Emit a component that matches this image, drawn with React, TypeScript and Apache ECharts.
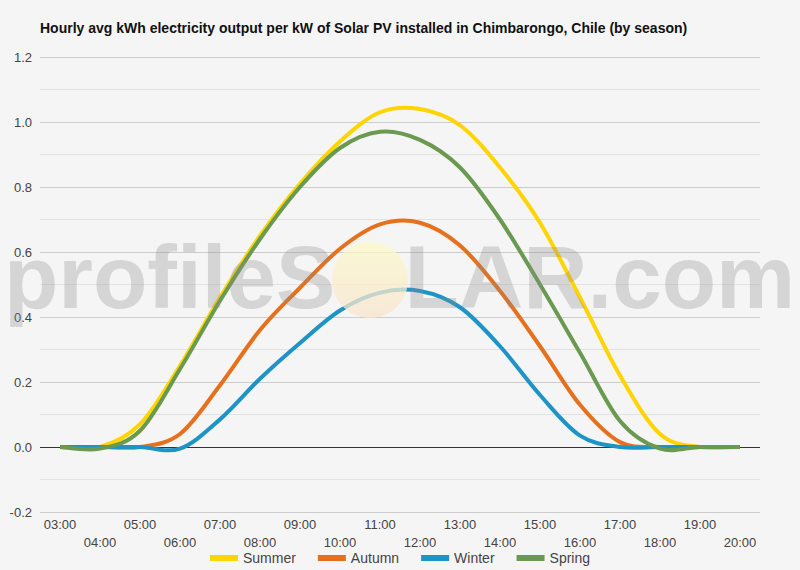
import React, { useEffect, useRef } from "react";
import * as echarts from "echarts";

const hours = [
  "03:00", "04:00", "05:00", "06:00", "07:00", "08:00", "09:00", "10:00", "11:00",
  "12:00", "13:00", "14:00", "15:00", "16:00", "17:00", "18:00", "19:00", "20:00",
];

const summer = [0, 0.0, 0.07, 0.25, 0.46, 0.65, 0.81, 0.94, 1.03, 1.04, 0.99, 0.86, 0.69, 0.46, 0.22, 0.04, 0.0, 0];
const autumn = [0, 0, 0.0, 0.04, 0.19, 0.36, 0.49, 0.61, 0.685, 0.69, 0.62, 0.48, 0.31, 0.13, 0.015, 0.0, 0, 0];
const winter = [0, 0, 0.0, -0.005, 0.085, 0.21, 0.32, 0.42, 0.475, 0.48, 0.43, 0.31, 0.16, 0.035, 0.0, 0.0, 0, 0];
const spring = [0, -0.005, 0.05, 0.24, 0.45, 0.64, 0.8, 0.92, 0.97, 0.945, 0.86, 0.7, 0.5, 0.29, 0.08, -0.005, 0, 0];

const seriesNames = ["Summer", "Autumn", "Winter", "Spring"];
const seriesColors = ["#FFD400", "#E5711E", "#1E93C6", "#6A9A4F"];

const FONT = "'Liberation Sans', Arial, sans-serif";

// Builds a Catmull-Rom spline through the projected points as cubic Béziers.
function splinePath(pts: number[][]): string {
  let d = `M${pts[0][0]},${pts[0][1]}`;
  for (let k = 0; k < pts.length - 1; k++) {
    const p0 = pts[k - 1] || pts[k];
    const p1 = pts[k];
    const p2 = pts[k + 1];
    const p3 = pts[k + 2] || pts[k + 1];
    const c1x = p1[0] + (p2[0] - p0[0]) / 6;
    const c1y = p1[1] + (p2[1] - p0[1]) / 6;
    const c2x = p2[0] - (p3[0] - p1[0]) / 6;
    const c2y = p2[1] - (p3[1] - p1[1]) / 6;
    d += ` C${c1x},${c1y} ${c2x},${c2y} ${p2[0]},${p2[1]}`;
  }
  return d;
}

export default function App() {
  const ref = useRef<HTMLDivElement>(null);

  useEffect(() => {
    if (!ref.current) return;
    const chart = echarts.init(ref.current, undefined, { renderer: "svg" });
    const data = [summer, autumn, winter, spring];

    const gridColors = hours.map(() => "#cccccc");
    gridColors[1] = "#333333"; // the 0.0 line

    chart.setOption({
      animation: false,
      backgroundColor: "#f5f5f5",
      textStyle: { fontFamily: FONT },
      title: {
        text: "Hourly avg kWh electricity output per kW of Solar PV installed in Chimbarongo, Chile (by season)",
        left: 35,
        top: 16,
        textStyle: { fontFamily: FONT, fontSize: 14, fontWeight: "bold", color: "#111" },
      },
      legend: {
        bottom: 0,
        left: "center",
        itemWidth: 28,
        itemHeight: 6,
        itemGap: 22,
        icon: "rect",
        textStyle: { fontFamily: FONT, fontSize: 14, color: "#444" },
        data: seriesNames,
      },
      grid: { left: 40, right: 40, top: 57, bottom: 58, containLabel: false },
      xAxis: {
        type: "category",
        data: hours,
        boundaryGap: true,
        axisLine: { show: false },
        axisTick: { show: false },
        axisLabel: {
          interval: 0,
          margin: 3,
          fontFamily: FONT,
          fontSize: 13,
          color: "#444",
          lineHeight: 18,
          formatter: (v: string, i: number) => (i % 2 === 1 ? "\n" + v : v),
        },
      },
      yAxis: {
        type: "value",
        min: -0.2,
        max: 1.2,
        interval: 0.2,
        axisLine: { show: false },
        axisTick: { show: false },
        axisLabel: {
          margin: 8,
          fontFamily: FONT,
          fontSize: 13,
          color: "#444",
          formatter: (v: number) => v.toFixed(1),
        },
        splitLine: { lineStyle: { color: gridColors, width: 1 } },
        minorTick: { show: false, splitNumber: 2 },
        minorSplitLine: { show: true, lineStyle: { color: "#e2e2e2", width: 1 } },
      },
      series: data.map((d, i) => ({
        name: seriesNames[i],
        type: "custom",
        data: d.map((v, j) => [j, v]),
        encode: { x: 0, y: 1 },
        itemStyle: { color: seriesColors[i] },
        z: 3 + i,
        renderItem: (params: any, api: any) => {
          if (params.dataIndex !== 0) return null;
          const pts = d.map((v, j) => api.coord([j, v]));
          return {
            type: "path",
            shape: { pathData: splinePath(pts) },
            style: {
              fill: "none",
              stroke: seriesColors[i],
              lineWidth: 4,
              lineJoin: "round",
              lineCap: "butt",
            },
          };
        },
      })),
      graphic: [
        {
          type: "text",
          left: 4,
          top: 232,
          z: 100,
          silent: true,
          style: {
            text: "{a|profileS}{b|O}{a|LAR.com}",
            rich: {
              a: { fontFamily: FONT, fontSize: 89, fontWeight: "bold", fill: "rgba(140,140,140,0.3)" },
              b: { fontFamily: FONT, fontSize: 89, fontWeight: "bold", fill: "rgba(0,0,0,0)" },
            },
          },
        },
        {
          type: "circle",
          shape: { cx: 370, cy: 280, r: 38 },
          z: 99,
          silent: true,
          style: {
            fill: new echarts.graphic.LinearGradient(0, 0, 0, 1, [
              { offset: 0, color: "rgba(252,250,200,0.75)" },
              { offset: 1, color: "rgba(248,228,205,0.75)" },
            ]),
          },
        },
      ],
    });

    return () => chart.dispose();
  }, []);

  return (
    <div
      ref={ref}
      style={{ position: "fixed", left: 0, top: 0, width: 800, height: 570 }}
    />
  );
}
